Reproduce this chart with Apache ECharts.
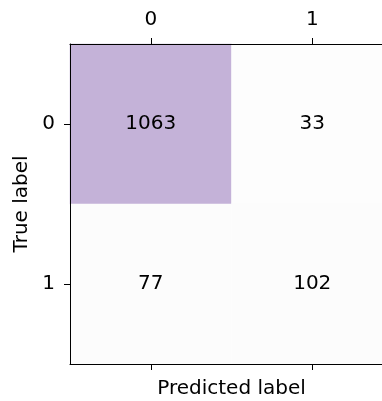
<!DOCTYPE html>
<html>
<head>
<meta charset="utf-8">
<script src="https://cdn.jsdelivr.net/npm/echarts@6/dist/echarts.min.js"></script>
<style>html,body{margin:0;padding:0;background:#fff}#c{width:382px;height:401px}</style>
</head>
<body>
<div id="c"></div>
<script>
const predictedLabels = ['0', '1'];
const trueLabels = ['0', '1'];
const row0 = [1063, 33];
const row1 = [77, 102];
const matrix = [row0, row1];

const data = [];
matrix.forEach((row, yi) => row.forEach((v, xi) => data.push([xi, yi, v])));

const FONT = 'DejaVu Sans';
const FS = 20;
const axisLine = { show: true, lineStyle: { color: '#000', width: 1 } };
const axisTick = { show: true, alignWithLabel: true, length: 6, lineStyle: { color: '#000', width: 1 } };

const chart = echarts.init(document.getElementById('c'), null, { renderer: 'canvas' });
chart.setOption({
  animation: false,
  backgroundColor: '#fff',
  grid: { left: 70, top: 44, right: -11, height: 320, containLabel: false, outerBoundsMode: 'none' },
  xAxis: [
    {
      type: 'category', data: predictedLabels, position: 'top', z: 10,
      axisLine: axisLine, axisTick: axisTick,
      axisLabel: { color: '#000', fontFamily: FONT, fontSize: FS, margin: 14 },
      splitLine: { show: false }
    },
    {
      type: 'category', data: predictedLabels, position: 'bottom', z: 10,
      axisLine: axisLine, axisTick: axisTick,
      axisLabel: { show: false },
      name: 'Predicted label', nameLocation: 'middle', nameGap: 15,
      nameTextStyle: { color: '#000', fontFamily: FONT, fontSize: FS },
      splitLine: { show: false }
    }
  ],
  yAxis: [
    {
      type: 'category', data: trueLabels, inverse: true, z: 10,
      axisLine: axisLine, axisTick: axisTick,
      axisLabel: { color: '#000', fontFamily: FONT, fontSize: FS, margin: 15 },
      name: 'True label', nameLocation: 'middle', nameGap: 38, nameRotate: 90,
      nameTextStyle: { color: '#000', fontFamily: FONT, fontSize: FS },
      splitLine: { show: false }
    }
  ],
  visualMap: {
    show: false, type: 'continuous', min: 0, max: 1063, dimension: 2,
    inRange: { color: ['#fdfdfd', '#f6f6f6', '#c4b2d8'] }
  },
  series: [{
    type: 'heatmap',
    data: data,
    xAxisIndex: 0, yAxisIndex: 0,
    label: { show: true, color: '#000', fontFamily: FONT, fontSize: FS },
    emphasis: { disabled: true }
  }]
});
</script>
</body>
</html>
